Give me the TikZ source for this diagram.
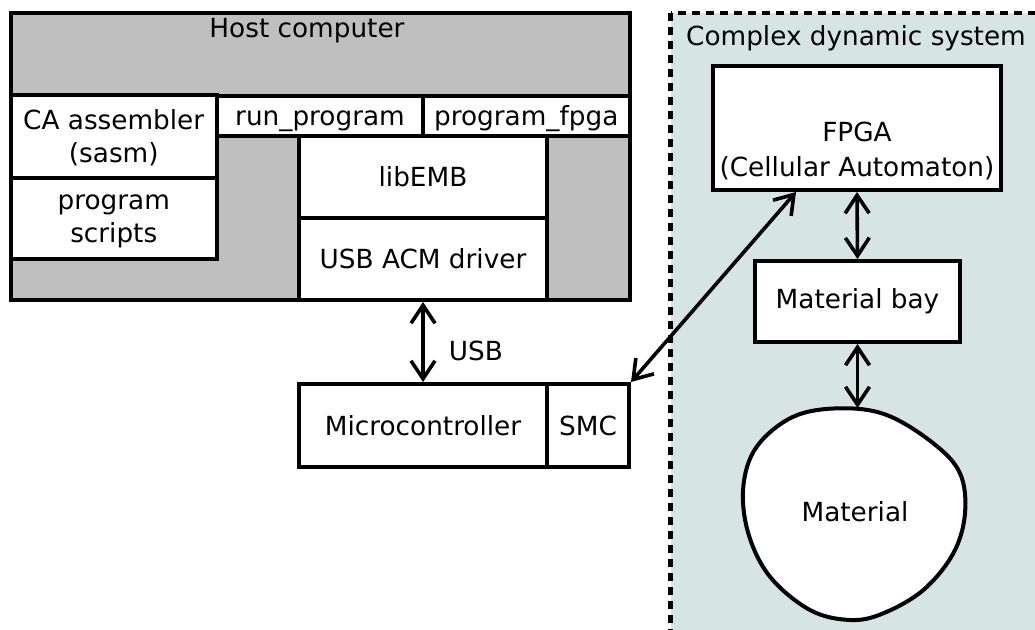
\documentclass[tikz,border=0pt]{standalone}
\usepackage{fontspec}
\setmainfont{DejaVu Sans}
\usetikzlibrary{arrows.meta}
\definecolor{hostgray}{RGB}{191,191,191}
\definecolor{sysbg}{RGB}{214,228,228}
\newcommand{\labelfont}{\fontsize{26.3}{33}\selectfont}
\tikzset{
  box/.style={draw, fill=white, line width=4pt, inner sep=0pt,
    align=center, font=\labelfont},
  plain/.style={inner sep=0pt, align=center, font=\labelfont},
  link/.style={line width=3.6pt,
    {Straight Barb[length=18pt,width=24pt]}-{Straight Barb[length=18pt,width=24pt]}}
}
\begin{document}
\begin{tikzpicture}[x=1pt,y=-1pt]
\useasboundingbox (0,0) rectangle (1035,629);

% complex dynamic system area, running off the right and bottom edges
\begin{scope}
  \clip (0,0) rectangle (1035,629);
  \draw[fill=sysbg, line width=4.5pt, dash pattern=on 8pt off 6pt]
    (670.5,13) rectangle (1060,660);
\end{scope}
\node[plain, anchor=base] (systitle) at (856,45) {Complex dynamic system};

% host computer
\node[draw, fill=hostgray, line width=4pt, minimum width=619pt,
  minimum height=287pt, inner sep=0pt] (host) at (320,156.5) {};
\node[plain, anchor=base] (hosttitle) at (307,37) {Host computer};

\node[box, text depth=0pt, minimum width=206.5pt, minimum height=82.5pt]
  (sasm) at (113.75,136.25) {CA assembler\\(sasm)};
\node[box, text depth=0pt, minimum width=206.5pt, minimum height=81.5pt]
  (scripts) at (113.75,218.25) {program\\scripts};
\node[box, text height=19pt, text depth=0pt, minimum width=206pt, minimum height=40pt]
  (runprog) at (320,115.5) {run\_program};
\node[box, text height=19pt, text depth=0pt, minimum width=206.5pt, minimum height=40pt]
  (progfpga) at (526.25,115.5) {program\_fpga};
\node[box, minimum width=248pt, minimum height=82.5pt] (libemb) at (423,176.75)
  {libEMB};
\node[box, minimum width=248pt, minimum height=82pt] (acm) at (423,259)
  {USB ACM driver};

% board
\node[box, minimum width=248pt, minimum height=83pt] (mcu) at (423,425.5)
  {Microcontroller};
\node[box, minimum width=82pt, minimum height=83pt] (smc) at (588,425.5)
  {SMC};

% FPGA, material bay and material
\node[box, minimum width=288pt, minimum height=124pt] (fpga) at (857,128) {};
\node[plain, anchor=base] (fpganame) at (857,141) {FPGA};
\node[plain, anchor=base] (fpgaca) at (857,176) {(Cellular Automaton)};
\node[box, minimum width=205pt, minimum height=81pt] (bay) at (857.5,301.5)
  {Material bay};

\draw[fill=white, line width=4pt] plot[smooth cycle, tension=0.6] coordinates {
  (840,408.3) (886.7,415) (933.3,443.3) (960,473.3) (965,513.3)
  (953.3,553.3) (923.3,590) (883.3,613.3) (850,620) (810,610)
  (770,576.7) (748.3,533.3) (743.3,486.7) (756.7,446.7) (793.3,416.7)};
\node[plain] (material) at (855,512) {Material};
\coordinate (materialtop) at (857.5,408);
\coordinate (fpgain) at ([xshift=85pt]fpga.south west);

% connections
\draw[link] (acm.south) -- node[plain, right=24pt, yshift=-9pt] (usb) {USB} (mcu.north);
\draw[link] (smc.north east) -- (fpgain);
\draw[link] (fpga.south) -- (bay.north);
\draw[link] (bay.south) -- (materialtop);
\end{tikzpicture}
\end{document}
